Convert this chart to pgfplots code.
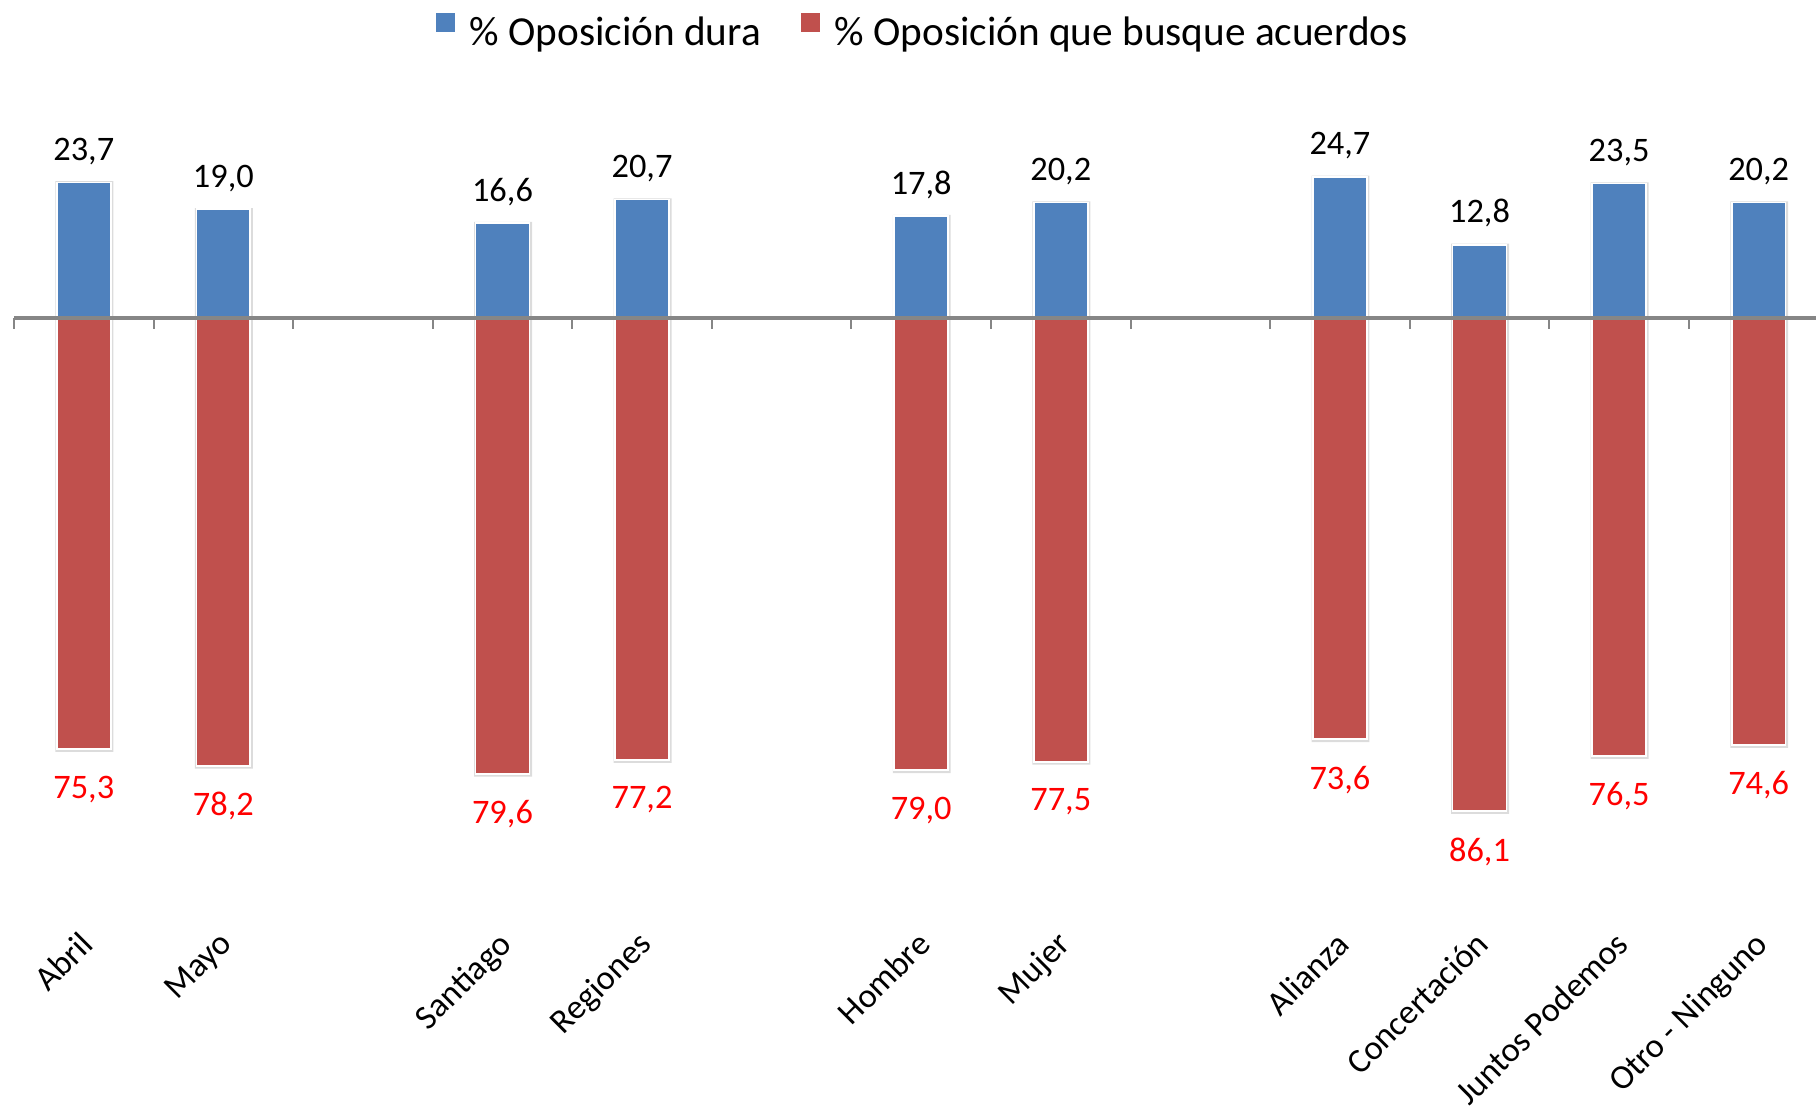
\documentclass[border=0pt]{standalone}
\usepackage{fontspec}
\setmainfont{Carlito}
\usepackage{pgfplots}
\pgfplotsset{compat=1.18}
\definecolor{cblue}{HTML}{4F81BD}
\definecolor{cred}{HTML}{C0504D}
\definecolor{axgray}{HTML}{868686}
\definecolor{lblred}{HTML}{FF0000}
\definecolor{shadowgray}{HTML}{DCDCDC}

\begin{document}
\begin{tikzpicture}
\begin{axis}[
  scale only axis,
  width=528.5pt, height=271.8pt,
  xmin=-0.6, xmax=12.414,
  ymin=-107.7, ymax=55.5,
  axis line style={draw=none},
  ytick=\empty,
  xtick={0,...,12},
  xticklabels={Abril,Mayo,{},Santiago,Regiones,{},Hombre,Mujer,{},Alianza,Concertación,Juntos Podemos,Otro - Ninguno},
  major tick length=0pt,
  xticklabel style={xshift=-1.7pt, yshift=1.7pt, rotate=45, anchor=north east, inner sep=0pt, font=\fontsize{10}{12}\selectfont},
  clip=false,
  ybar, bar shift=0pt, bar width=0.386,
  nodes near coords, point meta=explicit symbolic,
  legend style={at={(0.507,1)}, anchor=north, yshift=-3pt, draw=none, inner sep=0pt,
    legend columns=2, font=\fontsize{12}{14}\selectfont, column sep=3.8pt,
    nodes={inner sep=0pt},
    /tikz/every even column/.append style={column sep=11pt}},
  legend image code/.code={\fill[#1] (0pt,0.25pt) rectangle (6.1pt,6.35pt);},
]
% soft shadows behind bars
\addplot[fill=shadowgray, draw=none, bar width=0.415, bar shift=0.004, nodes near coords=\empty, forget plot]
  coordinates {(0,23.9)[] (1,19.2)[] (3,16.8)[] (4,20.9)[] (6,18.0)[] (7,20.4)[] (9,24.9)[] (10,13.0)[] (11,23.7)[] (12,20.4)[]};
\addplot[fill=shadowgray, draw=none, bar width=0.415, bar shift=0.004, nodes near coords=\empty, forget plot]
  coordinates {(0,-75.8)[] (1,-78.7)[] (3,-80.1)[] (4,-77.7)[] (6,-79.5)[] (7,-78.0)[] (9,-74.1)[] (10,-86.6)[] (11,-77.0)[] (12,-75.1)[]};
\addplot[fill=cblue, draw=white, line width=0.5pt,
  nodes near coords style={anchor=base, inner sep=0pt, yshift=6.4pt, black, font=\fontsize{10}{12}\selectfont}]
  coordinates {(0,23.7)[23,7] (1,19.0)[19,0] (3,16.6)[16,6] (4,20.7)[20,7] (6,17.8)[17,8] (7,20.2)[20,2] (9,24.7)[24,7] (10,12.8)[12,8] (11,23.5)[23,5] (12,20.2)[20,2]};
\addlegendentry{\% Oposición dura}
\addplot[fill=cred, draw=white, line width=0.5pt,
  nodes near coords style={anchor=north, inner sep=0pt, yshift=-7.5pt, lblred, font=\fontsize{10}{12}\selectfont}]
  coordinates {(0,-75.3)[75,3] (1,-78.2)[78,2] (3,-79.6)[79,6] (4,-77.2)[77,2] (6,-79.0)[79,0] (7,-77.5)[77,5] (9,-73.6)[73,6] (10,-86.1)[86,1] (11,-76.5)[76,5] (12,-74.6)[74,6]};
\addlegendentry{\% Oposición que busque acuerdos}
\draw[axgray, line width=0.9pt] (axis cs:-0.5,0) -- (axis cs:12.414,0);
\pgfplotsinvokeforeach{-0.5,0.5,1.5,2.5,3.5,4.5,5.5,6.5,7.5,8.5,9.5,10.5,11.5}{
  \draw[axgray, line width=0.6pt] (axis cs:#1,0) -- (axis cs:#1,-1.92);
}
\end{axis}
\end{tikzpicture}
\end{document}
